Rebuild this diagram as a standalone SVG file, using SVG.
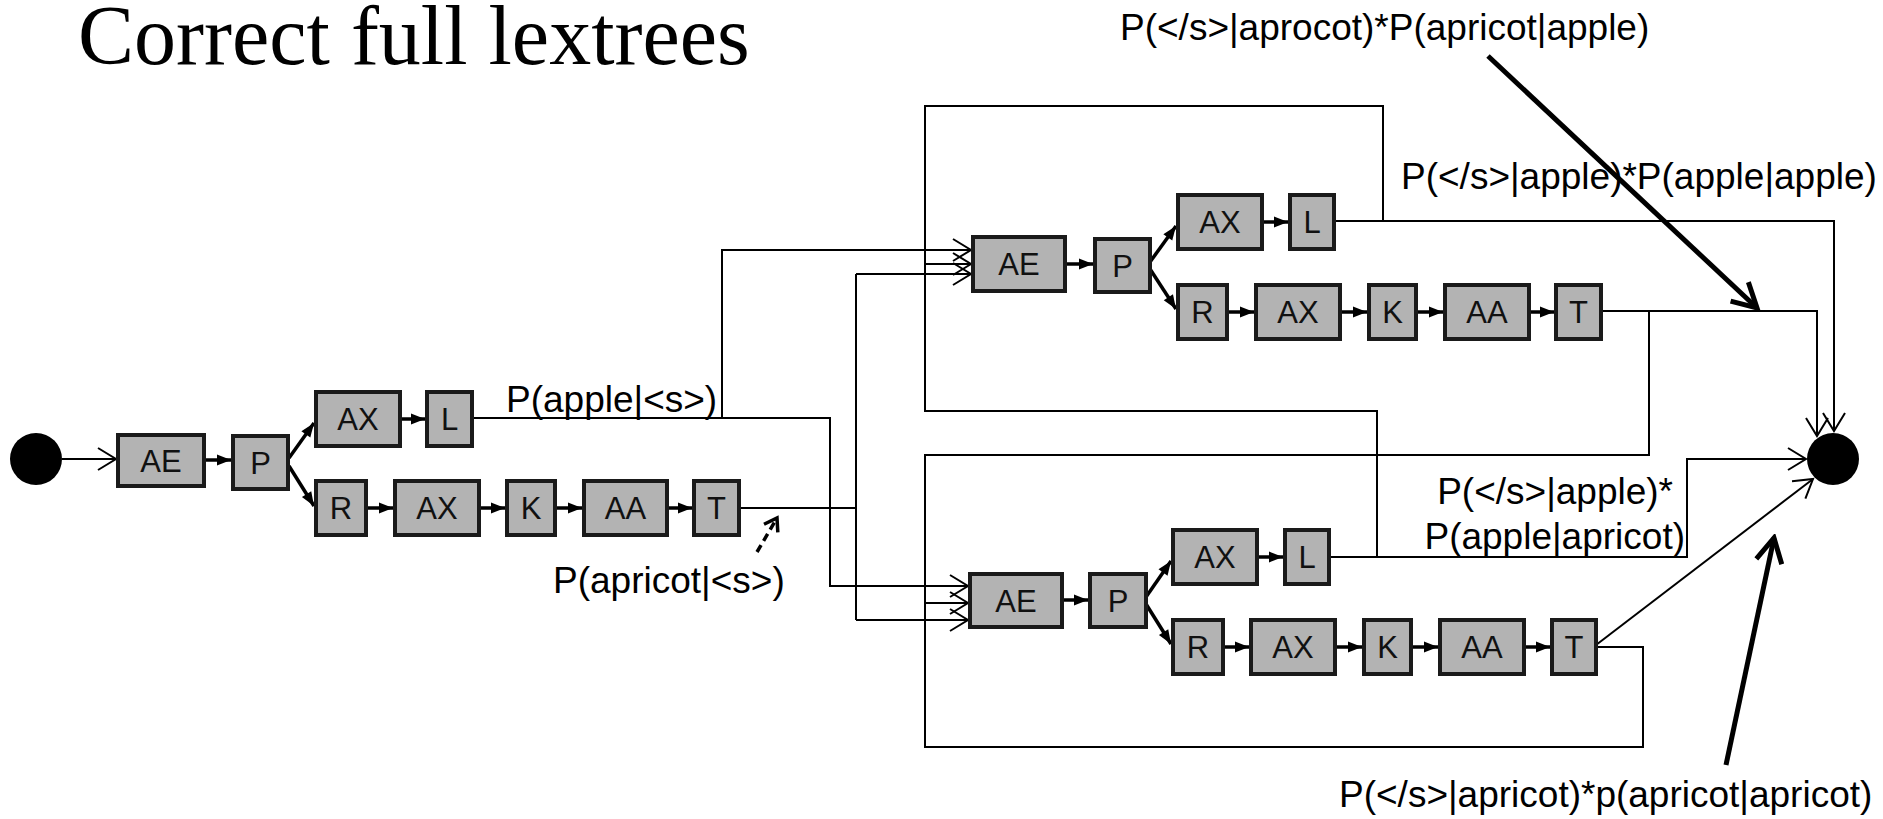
<svg xmlns="http://www.w3.org/2000/svg" width="1883" height="819" viewBox="0 0 1883 819">
<style>
.box{fill:#b3b3b3;stroke:#1a1a1a;stroke-width:4}
.lbl{font-family:"Liberation Sans",Arial,sans-serif;font-size:31px;text-anchor:middle;fill:#111}
.conn{fill:none;stroke:#000;stroke-width:2}
.inner{fill:none;stroke:#000;stroke-width:3.5}
.note{fill:none;stroke:#000;stroke-width:5}
.dash{fill:none;stroke:#000;stroke-width:3.5;stroke-dasharray:8 5}
.txt{font-family:"Liberation Sans",Arial,sans-serif;font-size:37px;fill:#000}
.title{font-family:"Liberation Serif","Times New Roman",serif;font-size:84px;fill:#000}
</style>
<defs>
<marker id="open" viewBox="-21 -14 24 28" markerWidth="24" markerHeight="28" refX="0" refY="0" orient="auto" markerUnits="userSpaceOnUse">
<path d="M-18,-11 L0,0 L-18,11" fill="none" stroke="#000" stroke-width="2"/>
</marker>
<marker id="fill" viewBox="-16 -8 18 16" markerWidth="18" markerHeight="16" refX="0" refY="0" orient="auto" markerUnits="userSpaceOnUse">
<path d="M-14,-5.5 L0,0 L-14,5.5 Z" fill="#000"/>
</marker>
<marker id="big" viewBox="-30 -18 34 36" markerWidth="34" markerHeight="36" refX="0" refY="0" orient="auto" markerUnits="userSpaceOnUse">
<path d="M-24,-13 L0,0 L-24,13" fill="none" stroke="#000" stroke-width="5"/>
</marker>
<marker id="small" viewBox="-16 -11 19 22" markerWidth="19" markerHeight="22" refX="0" refY="0" orient="auto" markerUnits="userSpaceOnUse">
<path d="M-12,-8 L0,0 L-12,8" fill="none" stroke="#000" stroke-width="3.5"/>
</marker>
</defs>
<rect width="1883" height="819" fill="#fff"/>
<text class="title" x="78" y="64">Correct full lextrees</text>

<g id="connectors">
<path class="conn" d="M62,459 H116" marker-end="url(#open)"/>
<path class="conn" d="M472,418 H830 V586 H968" marker-end="url(#open)"/>
<path class="conn" d="M722,418 V250 H971" marker-end="url(#open)"/>
<path class="conn" d="M739,508 H856"/>
<path class="conn" d="M856,274 V620"/>
<path class="conn" d="M856,274 H971" marker-end="url(#open)"/>
<path class="conn" d="M856,620 H968" marker-end="url(#open)"/>
<path class="conn" d="M1334,221 H1834 V431" marker-end="url(#open)"/>
<path class="conn" d="M1383,221 V106 H925 V411 H1377 V557"/>
<path class="conn" d="M925,264 H971" marker-end="url(#open)"/>
<path class="conn" d="M1601,311 H1817 V436" marker-end="url(#open)"/>
<path class="conn" d="M1649,311 V455 H925 V747 H1643 V647 H1596"/>
<path class="conn" d="M925,603 H968" marker-end="url(#open)"/>
<path class="conn" d="M1329,557 H1687 V459 H1806" marker-end="url(#open)"/>
<path class="conn" d="M1596,645 L1813,479" marker-end="url(#open)"/>

<path class="inner" d="M204,460 H231" marker-end="url(#fill)"/>
<path class="inner" d="M289,458 L314,423" marker-end="url(#fill)"/>
<path class="inner" d="M289,466 L314,506" marker-end="url(#fill)"/>
<path class="inner" d="M400,419 H425" marker-end="url(#fill)"/>
<path class="inner" d="M366,508 H393" marker-end="url(#fill)"/>
<path class="inner" d="M479,508 H505" marker-end="url(#fill)"/>
<path class="inner" d="M555,508 H582" marker-end="url(#fill)"/>
<path class="inner" d="M667,508 H692" marker-end="url(#fill)"/>

<path class="inner" d="M1065,264 H1093" marker-end="url(#fill)"/>
<path class="inner" d="M1150,262 L1176,226" marker-end="url(#fill)"/>
<path class="inner" d="M1150,269 L1176,309" marker-end="url(#fill)"/>
<path class="inner" d="M1262,222 H1288" marker-end="url(#fill)"/>
<path class="inner" d="M1227,312 H1254" marker-end="url(#fill)"/>
<path class="inner" d="M1340,312 H1367" marker-end="url(#fill)"/>
<path class="inner" d="M1416,312 H1443" marker-end="url(#fill)"/>
<path class="inner" d="M1529,312 H1554" marker-end="url(#fill)"/>

<path class="inner" d="M1062,600 H1088" marker-end="url(#fill)"/>
<path class="inner" d="M1146,597 L1171,561" marker-end="url(#fill)"/>
<path class="inner" d="M1146,604 L1171,644" marker-end="url(#fill)"/>
<path class="inner" d="M1257,557 H1283" marker-end="url(#fill)"/>
<path class="inner" d="M1223,647 H1249" marker-end="url(#fill)"/>
<path class="inner" d="M1335,647 H1362" marker-end="url(#fill)"/>
<path class="inner" d="M1411,647 H1438" marker-end="url(#fill)"/>
<path class="inner" d="M1524,647 H1550" marker-end="url(#fill)"/>

<path class="note" d="M1488,56 L1757,308" marker-end="url(#big)"/>
<path class="note" d="M1726,765 L1774,538" marker-end="url(#big)"/>
<path class="dash" d="M757,552 L777,518" marker-end="url(#small)"/>
</g>

<g id="start"><circle cx="36" cy="459" r="26" fill="#000"/></g>
<g id="end"><circle cx="1833" cy="459" r="26" fill="#000"/></g>

<g id="n0_AE"><rect class="box" x="118" y="435" width="86" height="51"/><text class="lbl" x="161" y="472">AE</text></g>
<g id="n0_P"><rect class="box" x="233" y="436" width="55" height="53"/><text class="lbl" x="260.5" y="474">P</text></g>
<g id="n0_AX1"><rect class="box" x="316" y="392" width="84" height="54"/><text class="lbl" x="358" y="430">AX</text></g>
<g id="n0_L"><rect class="box" x="427" y="392" width="45" height="54"/><text class="lbl" x="449.5" y="430">L</text></g>
<g id="n0_R"><rect class="box" x="316" y="481" width="50" height="54"/><text class="lbl" x="341" y="519">R</text></g>
<g id="n0_AX2"><rect class="box" x="395" y="481" width="84" height="54"/><text class="lbl" x="437" y="519">AX</text></g>
<g id="n0_K"><rect class="box" x="507" y="481" width="48" height="54"/><text class="lbl" x="531" y="519">K</text></g>
<g id="n0_AA"><rect class="box" x="584" y="481" width="83" height="54"/><text class="lbl" x="625.5" y="519">AA</text></g>
<g id="n0_T"><rect class="box" x="694" y="481" width="45" height="54"/><text class="lbl" x="716.5" y="519">T</text></g>

<g id="u_AE"><rect class="box" x="973" y="237" width="92" height="54"/><text class="lbl" x="1019" y="275">AE</text></g>
<g id="u_P"><rect class="box" x="1095" y="239" width="55" height="53"/><text class="lbl" x="1122.5" y="277">P</text></g>
<g id="u_AX1"><rect class="box" x="1178" y="195" width="84" height="54"/><text class="lbl" x="1220" y="233">AX</text></g>
<g id="u_L"><rect class="box" x="1290" y="195" width="44" height="54"/><text class="lbl" x="1312" y="233">L</text></g>
<g id="u_R"><rect class="box" x="1178" y="285" width="49" height="54"/><text class="lbl" x="1202.5" y="323">R</text></g>
<g id="u_AX2"><rect class="box" x="1256" y="285" width="84" height="54"/><text class="lbl" x="1298" y="323">AX</text></g>
<g id="u_K"><rect class="box" x="1369" y="285" width="47" height="54"/><text class="lbl" x="1392.5" y="323">K</text></g>
<g id="u_AA"><rect class="box" x="1445" y="285" width="84" height="54"/><text class="lbl" x="1487" y="323">AA</text></g>
<g id="u_T"><rect class="box" x="1556" y="285" width="45" height="54"/><text class="lbl" x="1578.5" y="323">T</text></g>

<g id="l_AE"><rect class="box" x="970" y="574" width="92" height="53"/><text class="lbl" x="1016" y="612">AE</text></g>
<g id="l_P"><rect class="box" x="1090" y="574" width="56" height="53"/><text class="lbl" x="1118" y="612">P</text></g>
<g id="l_AX1"><rect class="box" x="1173" y="530" width="84" height="54"/><text class="lbl" x="1215" y="568">AX</text></g>
<g id="l_L"><rect class="box" x="1285" y="530" width="44" height="54"/><text class="lbl" x="1307" y="568">L</text></g>
<g id="l_R"><rect class="box" x="1173" y="620" width="50" height="54"/><text class="lbl" x="1198" y="658">R</text></g>
<g id="l_AX2"><rect class="box" x="1251" y="620" width="84" height="54"/><text class="lbl" x="1293" y="658">AX</text></g>
<g id="l_K"><rect class="box" x="1364" y="620" width="47" height="54"/><text class="lbl" x="1387.5" y="658">K</text></g>
<g id="l_AA"><rect class="box" x="1440" y="620" width="84" height="54"/><text class="lbl" x="1482" y="658">AA</text></g>
<g id="l_T"><rect class="box" x="1552" y="620" width="44" height="54"/><text class="lbl" x="1574" y="658">T</text></g>

<g id="labels">
<text class="txt" x="1120" y="40">P(&lt;/s&gt;|aprocot)*P(apricot|apple)</text>
<text class="txt" x="1401" y="189">P(&lt;/s&gt;|apple)*P(apple|apple)</text>
<text class="txt" x="506" y="412">P(apple|&lt;s&gt;)</text>
<text class="txt" x="553" y="593">P(apricot|&lt;s&gt;)</text>
<text class="txt" x="1673" y="504" text-anchor="end">P(&lt;/s&gt;|apple)*</text>
<text class="txt" x="1685" y="549" text-anchor="end">P(apple|apricot)</text>
<text class="txt" x="1339" y="807">P(&lt;/s&gt;|apricot)*p(apricot|apricot)</text>
</g>
</svg>
